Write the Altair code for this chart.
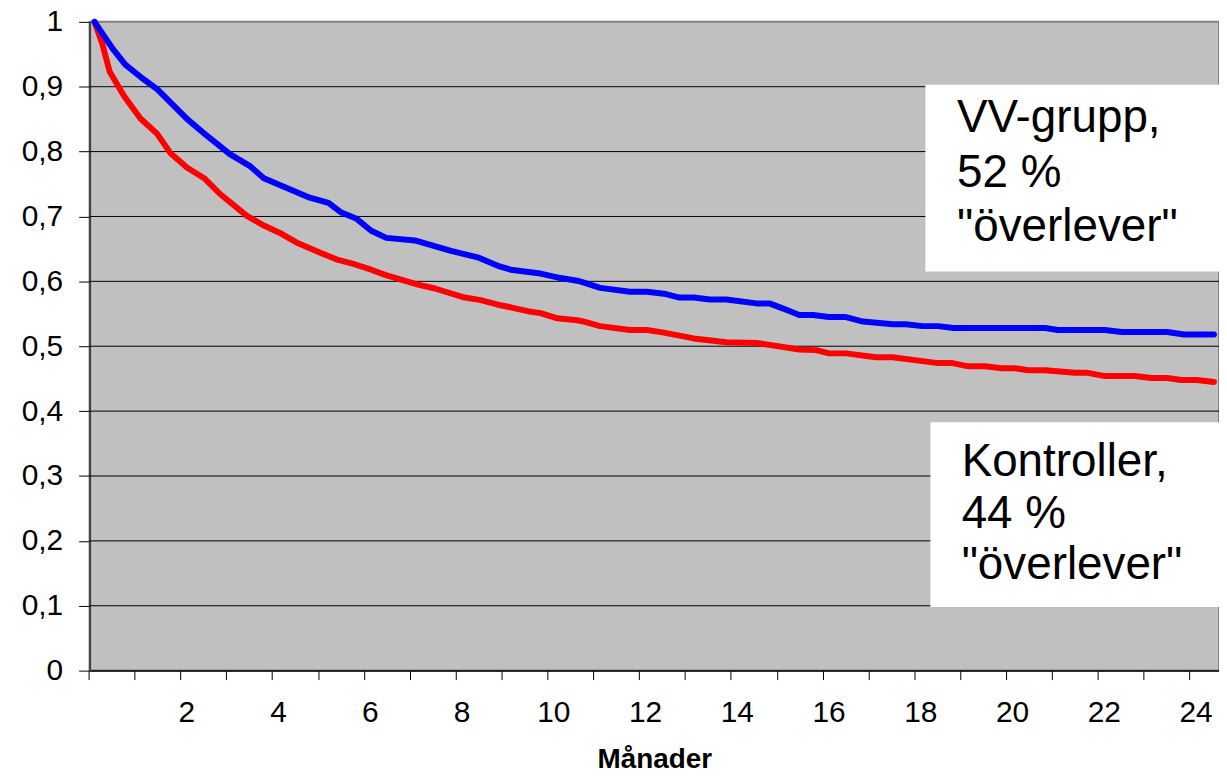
import altair as alt
import pandas as pd

# ---- data (months, survival proportion) ----
vv_months = [0, 0.39, 0.67, 1.04, 1.37, 2.02, 2.39, 2.95, 3.38, 3.69, 4.19, 4.69, 5.10, 5.38,
             5.70, 6.03, 6.36, 6.98, 7.77, 8.35, 8.79, 9.07, 9.72, 10.09, 10.52, 10.67, 11.02,
             11.67, 12.04, 12.41, 12.75, 13.06, 13.41, 13.77, 14.43, 14.71, 15.01, 15.36, 15.66,
             16.01, 16.38, 16.75, 17.40, 17.68, 18.05, 18.39, 18.72, 20.72, 21.00, 22.02, 22.39,
             23.38, 23.75, 24.40]
vv_surv = [1.000, 0.959, 0.934, 0.913, 0.896, 0.850, 0.828, 0.796, 0.778, 0.759, 0.744, 0.729,
           0.721, 0.706, 0.697, 0.678, 0.667, 0.663, 0.647, 0.637, 0.624, 0.618, 0.612, 0.606,
           0.601, 0.598, 0.590, 0.584, 0.584, 0.581, 0.575, 0.575, 0.572, 0.572, 0.566, 0.566,
           0.558, 0.548, 0.548, 0.545, 0.545, 0.538, 0.534, 0.534, 0.531, 0.531, 0.528, 0.528,
           0.525, 0.525, 0.522, 0.522, 0.518, 0.518]

k_months = [0, 0.17, 0.33, 0.65, 1.00, 1.37, 1.65, 2.02, 2.39, 2.73, 3.32, 3.69, 4.03, 4.40,
            4.92, 5.31, 5.68, 6.03, 6.33, 7.05, 7.42, 8.07, 8.42, 8.79, 9.07, 9.44, 9.72, 10.09,
            10.52, 10.67, 11.02, 11.67, 12.04, 12.41, 13.06, 13.77, 14.43, 15.36, 15.73, 16.01,
            16.38, 17.03, 17.40, 18.05, 18.39, 18.70, 19.05, 19.41, 19.78, 20.07, 20.35, 20.72,
            21.37, 21.65, 22.02, 22.67, 23.04, 23.38, 23.69, 24.03, 24.40]
k_surv = [1.000, 0.966, 0.923, 0.885, 0.851, 0.827, 0.798, 0.775, 0.759, 0.735, 0.701, 0.686,
          0.675, 0.660, 0.644, 0.633, 0.626, 0.618, 0.610, 0.595, 0.589, 0.575, 0.571, 0.564,
          0.560, 0.554, 0.551, 0.543, 0.540, 0.538, 0.531, 0.525, 0.525, 0.521, 0.512, 0.506,
          0.505, 0.495, 0.494, 0.489, 0.489, 0.483, 0.483, 0.477, 0.474, 0.474, 0.469, 0.469,
          0.466, 0.466, 0.463, 0.463, 0.459, 0.459, 0.454, 0.454, 0.451, 0.451, 0.448, 0.448,
          0.445]

y_ticks = [0, 0.1, 0.2, 0.3, 0.4, 0.5, 0.6, 0.7, 0.8, 0.9, 1.0]
grid_values = [0.1, 0.2, 0.3, 0.4, 0.5, 0.6, 0.7, 0.8, 0.9]
x_ticks = list(range(0, 25))
x_domain = [-0.108, 24.51]

# annotation boxes (data units) and their text lines
box_x = [18.11, 18.22]
box_x2 = [24.51, 24.51]
box_y = [0.615, 0.098]
box_y2 = [0.903, 0.383]
label_x = [18.80, 18.80, 18.80, 18.90, 18.90, 18.90]
label_y = [0.852, 0.767, 0.684, 0.322, 0.241, 0.162]
label_text = ["VV-grupp,", "52 %", '"överlever"', "Kontroller,", "44 %", '"överlever"']

FONT = "Liberation Sans"

vv = pd.DataFrame({"m": vv_months, "s": vv_surv})
kk = pd.DataFrame({"m": k_months, "s": k_surv})
grid = pd.DataFrame({"g": grid_values})
boxes = pd.DataFrame({"x": box_x, "x2": box_x2, "y": box_y, "y2": box_y2})
labels = pd.DataFrame({"x": label_x, "y": label_y, "t": label_text})

xscale = alt.Scale(domain=x_domain, nice=False, zero=False)
yscale = alt.Scale(domain=[0, 1], nice=False)

x_axis = alt.Axis(
    values=x_ticks,
    labelExpr="datum.value > 0 && datum.value % 2 == 0 ? datum.value : ''",
    title="Månader",
    titleFont=FONT, titleFontSize=28, titleFontWeight="bold", titleColor="black",
    titlePadding=18,
    labelFont=FONT, labelFontSize=30, labelColor="black", labelPadding=18,
    tickOffset=-6, labelOffset=6,
    tickSize=9, tickColor="black", tickWidth=1,
    domainColor="black", domainWidth=1.5, grid=False,
)
y_axis = alt.Axis(
    values=y_ticks,
    labelExpr="datum.value == 1 ? '1' : datum.value == 0 ? '0' : replace(format(datum.value, '.1f'), '.', ',')",
    title=None,
    labelFont=FONT, labelFontSize=30, labelColor="black", labelPadding=16,
    tickSize=11, tickColor="black", tickWidth=1,
    domainColor="#404040", domainWidth=2, grid=False,
)

base_axes = alt.Chart(grid).mark_rule(color="black", strokeWidth=1).encode(
    y=alt.Y("g:Q", scale=yscale, axis=y_axis),
    x=alt.value(0),
    x2=alt.value(1135),
)
# invisible layer just to carry the x axis
x_carrier = alt.Chart(vv).mark_point(opacity=0).encode(
    x=alt.X("m:Q", scale=xscale, axis=x_axis),
    y=alt.Y("s:Q", scale=yscale),
)

red_line = alt.Chart(kk).mark_line(color="#FF0000", strokeWidth=6, strokeCap="round", strokeJoin="round").encode(
    x=alt.X("m:Q", scale=xscale),
    y=alt.Y("s:Q", scale=yscale),
)
blue_line = alt.Chart(vv).mark_line(color="#0000FF", strokeWidth=6, strokeCap="round", strokeJoin="round").encode(
    x=alt.X("m:Q", scale=xscale),
    y=alt.Y("s:Q", scale=yscale),
)
box_layer = alt.Chart(boxes).mark_rect(color="white").encode(
    x=alt.X("x:Q", scale=xscale), x2="x2:Q",
    y=alt.Y("y:Q", scale=yscale), y2="y2:Q",
)
text_layer = alt.Chart(labels).mark_text(
    font=FONT, fontSize=46, color="black", align="left", baseline="middle"
).encode(
    x=alt.X("x:Q", scale=xscale),
    y=alt.Y("y:Q", scale=yscale),
    text="t:N",
)

chart = alt.layer(
    base_axes, x_carrier, red_line, blue_line, box_layer, text_layer
).properties(
    width=1135, height=652,
    autosize=alt.AutoSizeParams(type="none"),
    padding={"left": 82, "top": 12, "right": 0, "bottom": 104},
    background="white",
).configure_view(
    fill="#C0C0C0", stroke="#808080", strokeWidth=2,
)

chart.save("out.html", embed_options={"renderer": "svg", "actions": False})
